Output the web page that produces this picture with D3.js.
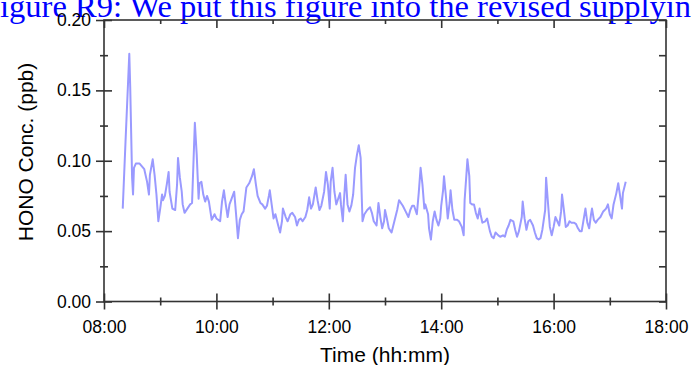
<!DOCTYPE html>
<html>
<head>
<meta charset="utf-8">
<script src="https://cdn.jsdelivr.net/npm/d3@7"></script>
<style>
  body { margin: 0; background: #fff; }
  svg { display: block; }
  .tick text { font-family: Arial, "Liberation Sans", sans-serif; font-size: 17.5px; fill: #000; }
  .domain { display: none; }
</style>
</head>
<body>
<svg id="chart" width="691" height="365"></svg>
<script>
// HONO readings (time of day, ppb)
const times = [
  '08:20','08:23','08:27','08:28','08:30','08:31','08:32','08:34','08:38','08:43','08:46','08:48','08:49',
  '08:52','08:54','08:56','08:58','09:00','09:02','09:03','09:05','09:07','09:09','09:10','09:13','09:16',
  '09:18','09:19','09:21','09:23','09:24','09:26','09:29','09:32','09:34','09:37','09:39','09:41','09:42',
  '09:44','09:46','09:48','09:50','09:52','09:55','09:58','10:00','10:04','10:06','10:08',
  '10:10','10:12','10:14','10:19','10:21','10:23','10:25','10:27','10:29','10:32','10:35','10:38','10:40',
  '10:42','10:44','10:47','10:49','10:52','10:54','10:56','10:57','10:59','11:01','11:03','11:06','11:08',
  '11:10','11:11','11:14','11:16','11:19','11:21','11:24','11:26','11:28','11:30','11:32','11:35','11:37',
  '11:39','11:41','11:43','11:46','11:48','11:50','11:52','11:55','11:57','11:59','12:01',
  '12:02','12:04','12:06','12:08','12:10','12:12','12:13','12:15','12:16','12:18','12:20','12:22','12:24',
  '12:26','12:28','12:30','12:32','12:34','12:35','12:36','12:38','12:41','12:44','12:46','12:48','12:51',
  '12:53','12:55','12:57','12:59','13:00','13:02','13:04','13:06','13:07','13:10','13:13','13:15','13:17',
  '13:19','13:22','13:25','13:27','13:29','13:31','13:34','13:36','13:38','13:40','13:42','13:43','13:46',
  '13:47','13:49','13:51','13:53','13:55','13:57','13:59',
  '14:00','14:02','14:03','14:05','14:07','14:09','14:10','14:12','14:14','14:17','14:19','14:22','14:24',
  '14:25','14:27','14:28','14:30','14:31','14:33','14:35','14:37','14:39','14:41','14:42','14:44','14:47',
  '14:49','14:50','14:52','14:54','14:56','14:58','15:01','15:03','15:06','15:08','15:10','15:12','15:14',
  '15:17','15:19','15:21','15:23','15:26','15:27','15:29','15:31','15:33','15:35','15:38','15:40','15:42',
  '15:44','15:46','15:48','15:51','15:52','15:54','15:56','15:58','16:00','16:02','16:04','16:06','16:08',
  '16:09','16:11','16:13','16:15','16:17','16:19','16:22','16:24','16:26','16:28','16:30','16:32','16:34',
  '16:36','16:38','16:40','16:41','16:43','16:45','16:47','16:50','16:53','16:56','16:58','17:00','17:02',
  '17:04','17:07','17:09','17:11','17:13','17:14','17:17'
];
const hono = [
  0.066,0.114,0.176,0.152,0.088,0.076,0.095,0.098,0.098,0.094,0.085,0.076,0.090,
  0.101,0.090,0.076,0.057,0.066,0.076,0.072,0.075,0.083,0.092,0.078,0.066,0.065,
  0.083,0.102,0.088,0.078,0.069,0.063,0.066,0.069,0.070,0.127,0.104,0.073,0.084,
  0.085,0.076,0.071,0.075,0.071,0.058,0.062,0.059,0.057,0.071,0.079,
  0.069,0.060,0.069,0.078,0.062,0.045,0.058,0.062,0.064,0.081,0.084,0.089,0.094,
  0.084,0.075,0.070,0.069,0.066,0.068,0.075,0.079,0.069,0.059,0.062,0.054,0.049,
  0.057,0.066,0.060,0.057,0.062,0.063,0.060,0.054,0.058,0.059,0.057,0.060,0.065,
  0.074,0.066,0.069,0.081,0.072,0.065,0.068,0.078,0.092,0.083,0.066,
  0.085,0.095,0.078,0.069,0.073,0.077,0.069,0.057,0.070,0.090,0.069,0.064,0.068,
  0.076,0.095,0.104,0.111,0.102,0.078,0.057,0.062,0.065,0.067,0.063,0.057,0.054,
  0.070,0.060,0.052,0.057,0.065,0.059,0.052,0.050,0.049,0.057,0.065,0.072,0.070,
  0.068,0.064,0.060,0.065,0.068,0.068,0.062,0.077,0.095,0.083,0.066,0.069,0.062,
  0.052,0.044,0.057,0.064,0.058,0.054,0.059,
  0.068,0.079,0.089,0.075,0.059,0.070,0.079,0.065,0.058,0.058,0.057,0.053,0.047,
  0.072,0.091,0.101,0.089,0.070,0.069,0.069,0.063,0.059,0.066,0.062,0.056,0.057,
  0.059,0.056,0.050,0.046,0.045,0.049,0.047,0.046,0.047,0.046,0.051,0.054,0.058,
  0.057,0.051,0.046,0.050,0.060,0.071,0.059,0.051,0.057,0.058,0.054,0.049,0.045,
  0.044,0.045,0.051,0.065,0.088,0.070,0.053,0.047,0.053,0.060,0.057,0.054,0.064,
  0.076,0.065,0.053,0.054,0.057,0.056,0.056,0.055,0.052,0.050,0.050,0.058,0.066,
  0.056,0.052,0.062,0.066,0.058,0.056,0.058,0.060,0.064,0.066,0.069,0.062,0.059,
  0.069,0.077,0.084,0.075,0.066,0.077,0.085
];
const yTicks = [0, 0.05, 0.10, 0.15, 0.20];
const yMinor = [0.025, 0.075, 0.125, 0.175];
const xTicks = ['08:00','10:00','12:00','14:00','16:00','18:00'];
const xMinor = ['09:00','11:00','13:00','15:00','17:00'];

const W = 691, H = 365;
const margin = {top: 20, right: 25, bottom: 63.5, left: 104};
const axisColor = '#333';
const parseTime = d3.timeParse('%H:%M');

let data = times.map((t, i) => ({t: parseTime(t), v: hono[i]}));

let svg = d3.select('#chart');

let x = d3.scaleTime()
  .domain([parseTime('08:00'), parseTime('18:00')])
  .range([margin.left, W - margin.right]);
let y = d3.scaleLinear()
  .domain([0, 0.20])
  .range([H - margin.bottom, margin.top]);

// caption left over from the document above the chart
svg.append('text')
  .attr('x', -18)
  .attr('y', 17)
  .style('font-family', '"Times New Roman", "Liberation Serif", serif')
  .style('font-size', '32.5px')
  .style('fill', '#0000ff')
  .text('Figure R9: We put this figure into the revised supplyinfo.');

// data line
svg.append('path')
  .datum(data)
  .attr('fill', 'none')
  .attr('stroke', '#9a9aff')
  .attr('stroke-width', 2)
  .attr('stroke-linejoin', 'round')
  .attr('d', d3.line().x(d => x(d.t)).y(d => y(d.v)));

// frame
svg.append('rect')
  .attr('x', x.range()[0])
  .attr('y', y.range()[1])
  .attr('width', x.range()[1] - x.range()[0])
  .attr('height', y.range()[0] - y.range()[1])
  .attr('fill', 'none')
  .attr('stroke', axisColor)
  .attr('stroke-width', 1.6);

function styleTicks(g, a, b) {
  g.selectAll('.tick line')
    .attr('stroke', axisColor)
    .attr('stroke-width', 1.6)
    .each(function() {
      let l = d3.select(this);
      if (l.attr('x2') !== null && +l.attr('x2') !== 0) l.attr('x1', a).attr('x2', b);
      else l.attr('y1', a).attr('y2', b);
    });
}

// left axis
let gl = svg.append('g').attr('transform', `translate(${margin.left},0)`)
  .call(d3.axisLeft(y).tickValues(yTicks).tickFormat(d3.format('.2f')).tickSize(8).tickPadding(5));
styleTicks(gl, -8, 8);
let glm = svg.append('g').attr('transform', `translate(${margin.left},0)`)
  .call(d3.axisLeft(y).tickValues(yMinor).tickFormat('').tickSize(4));
styleTicks(glm, -4, 4);

// right axis, ticks inside
let gr = svg.append('g').attr('transform', `translate(${W - margin.right},0)`)
  .call(d3.axisLeft(y).tickValues(yTicks.concat(yMinor)).tickFormat('').tickSize(7));
styleTicks(gr, -7, 0);

// bottom axis
let gb = svg.append('g').attr('transform', `translate(0,${H - margin.bottom})`)
  .call(d3.axisBottom(x).tickValues(xTicks.map(parseTime)).tickFormat(d3.timeFormat('%H:%M')).tickSize(8).tickPadding(11));
styleTicks(gb, -8, 8);
let gbm = svg.append('g').attr('transform', `translate(0,${H - margin.bottom})`)
  .call(d3.axisBottom(x).tickValues(xMinor.map(parseTime)).tickFormat('').tickSize(4));
styleTicks(gbm, -4, 4);

// top axis, ticks inside
let gt = svg.append('g').attr('transform', `translate(0,${margin.top})`)
  .call(d3.axisBottom(x).tickValues(xTicks.map(parseTime)).tickFormat('').tickSize(8));
styleTicks(gt, 0, 8);
let gtm = svg.append('g').attr('transform', `translate(0,${margin.top})`)
  .call(d3.axisBottom(x).tickValues(xMinor.map(parseTime)).tickFormat('').tickSize(4));
styleTicks(gtm, 0, 4);

// axis titles
svg.append('text')
  .attr('x', (x.range()[0] + x.range()[1]) / 2)
  .attr('y', 362)
  .attr('text-anchor', 'middle')
  .style('font-family', 'Arial, "Liberation Sans", sans-serif')
  .style('font-size', '21px')
  .text('Time (hh:mm)');

svg.append('text')
  .attr('transform', 'translate(33,152)rotate(-90)')
  .attr('text-anchor', 'middle')
  .style('font-family', 'Arial, "Liberation Sans", sans-serif')
  .style('font-size', '21px')
  .text('HONO Conc. (ppb)');
</script>
</body>
</html>
